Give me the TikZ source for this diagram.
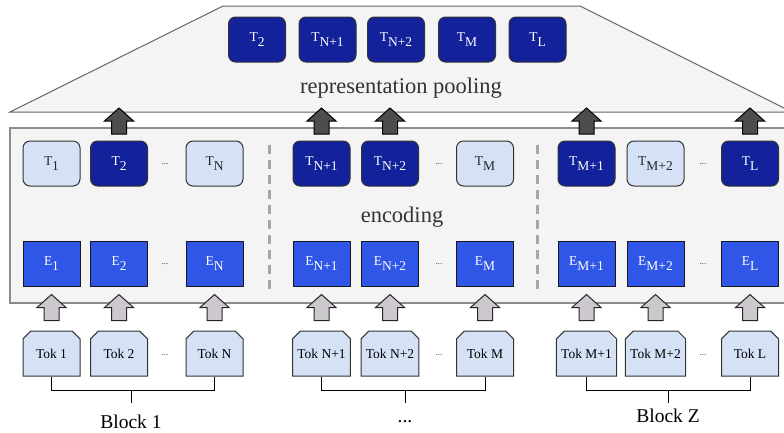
\documentclass[tikz,border=0pt]{standalone}
\usepackage{fontspec}
\setmainfont{Liberation Serif}
\usetikzlibrary{shapes.misc}

\definecolor{navy}{HTML}{13219B}
\definecolor{encblue}{HTML}{2F56E6}
\definecolor{pale}{HTML}{D5E1F4}
\definecolor{panel}{HTML}{F4F4F4}
\definecolor{darkarrow}{HTML}{4D4D4D}
\definecolor{lightarrow}{HTML}{CCC8CE}

\newcommand{\lsub}[2]{#1\raisebox{-5pt}{#2}}

\begin{document}
\begin{tikzpicture}[
    x=1pt, y=-1pt,
    font=\fontsize{13.5}{16}\selectfont,
    t_box/.style={draw=black!80, line width=1pt, rounded corners=7pt, minimum width=57pt,
                  minimum height=45pt, inner sep=0pt},
    e_box/.style={draw=black!90, line width=1pt, fill=encblue, text=white,
                  minimum width=57pt, minimum height=45pt, inner sep=0pt},
    tok_box/.style={draw=black!80, line width=1pt, fill=pale, chamfered rectangle,
                    chamfered rectangle corners={north west,north east},
                    chamfered rectangle xsep=8pt, minimum width=57pt,
                    minimum height=45pt, inner sep=0pt},
    block_up/.pic={
        \path[pic actions] (-7.5,13) -- (-7.5,0) -- (-14.5,0) -- (0,-13)
            -- (14.5,0) -- (7.5,0) -- (7.5,13) -- cycle;
    },
    up_dark/.style={draw=black, line width=1pt, fill=darkarrow},
    up_light/.style={draw=black!85, line width=1pt, fill=lightarrow},
    dots/.style={font=\fontsize{9}{10}\selectfont, text=black!80},
    big/.style={font=\fontsize{22.5}{26}\selectfont, text=black!80},
    block/.style={font=\fontsize{19.5}{22}\selectfont, anchor=base}
]
\useasboundingbox (0,0) rectangle (784,432);
\clip (0,0) rectangle (784,432);

% Pooling trapezoid
\draw[draw=black!60, line width=1pt, fill=panel] (10,112) -- (223,6) -- (580,6) -- (792,112) -- cycle;
\node[big, anchor=base] (pooltxt) at (401,93) {representation pooling};

% Encoder panel
\draw[draw=black!45, line width=1.4pt, fill=panel] (10,128) rectangle (800,303);
\node[big, anchor=base] (enctxt) at (402,222) {encoding};

% Block separators
\foreach \x in {269, 537} {
    \draw[gray!70, line width=3pt, dash pattern=on 9pt off 6pt] (\x,145) -- (\x,292);
}

% Pooled tokens
\foreach \n/\x/\lab in {p2/257/2, pn1/327.5/N+1, pn2/396/N+2, pm/467/M, pl/537.5/L} {
    \node[t_box, fill=navy, text=white] (\n) at (\x,39.5) {\lsub{T}{\lab}};
}

% Encoded tokens
\foreach \n/\x/\f/\c/\lab in {t1/51.5/pale/black!85/1, t2/119/navy/white/2,
        tn/214.5/pale/black!85/N, tn1/321.5/navy/white/N+1, tn2/390/navy/white/N+2,
        tm/485/pale/black!85/M, tm1/586.5/navy/white/M+1, tm2/655.5/pale/black!85/M+2,
        tl/750/navy/white/L} {
    \node[t_box, fill=\f, text=\c] (\n) at (\x,163.5) {\lsub{T}{\lab}};
}

% Embeddings
\foreach \n/\x/\lab in {e1/51.5/1, e2/119/2, en/214.5/N, en1/321.5/N+1, en2/390/N+2,
        em/485/M, em1/586.5/M+1, em2/655.5/M+2, el/750/L} {
    \node[e_box] (\n) at (\x,263.5) {\lsub{E}{\lab}};
}

% Input tokens
\foreach \n/\x/\lab in {k1/51.5/1, k2/119/2, kn/214.5/N, kn1/321.5/N+1, kn2/390/N+2,
        km/485/M, km1/586.5/M+1, km2/655.5/M+2, kl/750/L} {
    \node[tok_box] (\n) at (\x,353.5) {Tok \lab};
}

% Ellipses between columns
\foreach \x [count=\i] in {165, 439, 703} {
    \node[dots] (dt\i) at (\x,164) {...};
    \node[dots] (de\i) at (\x,264) {...};
    \node[dots] (dk\i) at (\x,355) {...};
}

% Block arrows
\foreach \n in {t2, tn1, tn2, tm1, tl} {
    \pic[up_dark] (u\n) at (\n |- 0,121) {block_up};
}
\foreach \n in {k1, k2, kn, kn1, kn2, km, km1, km2, kl} {
    \pic[up_light] (u\n) at (\n |- 0,307.5) {block_up};
}

% Block brackets
\node[block] (blk1) at (131,428) {Block 1};
\node[block] (blkm) at (405,422) {...};
\node[block] (blkz) at (668,422) {Block Z};
\draw[line width=1pt] (k1.south) -- (k1.south |- 0,390) -- (kn.south |- 0,390) -- (kn.south);
\draw[line width=1pt] (kn1.south) -- (kn1.south |- 0,390) -- (km.south |- 0,390) -- (km.south);
\draw[line width=1pt] (km1.south) -- (km1.south |- 0,390) -- (kl.south |- 0,390) -- (kl.south);
\foreach \b in {blk1, blkm, blkz} {
    \draw[line width=1pt] (\b |- 0,390) -- (\b |- 0,403);
}

\end{tikzpicture}
\end{document}
